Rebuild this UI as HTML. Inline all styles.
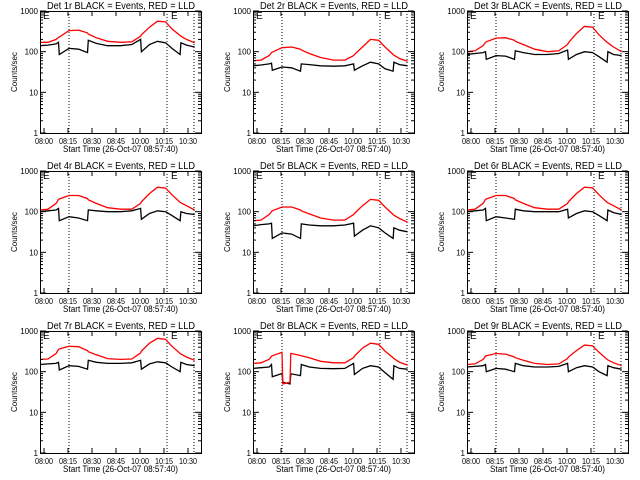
<!DOCTYPE html>
<html><head><meta charset="utf-8"><style>
body{margin:0;background:#fff;width:640px;height:480px;overflow:hidden}
svg{display:block;font-family:"Liberation Sans",sans-serif}
</style></head><body>
<svg id="root" width="640" height="480"></svg>
<script>
const TIMES=[0,5,10,11.5,12,18,24,29.5,30,35,42,50,57,62.5,63,68,73,78,82,87,87.5,91,96];
const TIMES_P8=[0,5,10,11.5,12,18,18.5,23,23.5,24,29.5,30,35,42,50,57,62.5,63,68,73,78,82,87,87.5,91,96];
const RED_1=[170,170,200,225,230,330,340,290,270,220,180,170,175,240,260,400,560,540,360,250,240,200,165];
const BLK_1=[140,145,155,170,85,120,115,95,190,160,140,140,150,200,100,150,180,165,120,85,165,145,130];
const RED_2=[60,62,80,95,97,125,130,115,110,90,72,62,62,80,85,130,200,190,130,85,82,68,58];
const BLK_2=[45,47,50,52,35,42,40,33,50,48,45,44,45,50,35,45,55,50,38,33,55,48,45];
const RED_3=[100,105,140,170,175,215,220,190,180,150,115,100,105,150,165,280,420,400,260,170,165,130,100];
const BLK_3=[85,90,95,100,65,80,78,65,105,95,85,85,90,110,65,85,100,95,75,55,100,85,80];
const RED_4=[110,115,160,200,205,250,250,210,195,160,125,115,115,160,175,280,400,380,260,170,165,140,110];
const BLK_4=[100,105,110,120,60,75,70,60,110,105,100,100,105,120,65,90,105,100,80,60,100,90,85];
const RED_5=[60,62,85,100,105,130,130,110,105,88,70,62,62,85,90,140,200,190,130,85,82,68,55];
const BLK_5=[45,48,50,52,22,30,28,22,50,47,45,45,47,52,25,35,45,40,30,22,40,35,32];
const RED_6=[110,115,160,200,205,250,250,210,195,160,125,115,115,160,175,280,400,385,260,170,165,140,110];
const BLK_6=[100,105,110,120,60,75,70,65,115,105,100,100,100,115,70,90,105,100,80,60,110,95,85];
const RED_7=[200,205,280,350,360,420,410,330,310,260,210,200,205,290,320,500,660,620,420,280,270,230,190];
const BLK_7=[150,155,160,170,110,140,135,115,190,170,160,160,165,190,115,155,175,165,130,100,170,150,140];
const RED_8=[160,165,200,240,245,300,50,55,280,280,250,245,220,180,165,165,220,240,380,500,470,320,220,210,170,145];
const BLK_8=[120,125,130,150,75,90,55,50,85,88,80,150,130,120,118,120,160,85,120,140,130,95,65,140,120,115];
const RED_9=[150,155,200,240,245,280,270,230,220,190,160,150,155,210,230,330,450,430,300,200,195,165,140];
const BLK_9=[130,135,140,150,100,120,115,100,160,140,130,130,135,160,100,125,140,130,100,80,140,125,115];
const X_TICKS=["08:00","08:15","08:30","08:45","10:00","10:15","10:30"];
const Y_TICKS=[1,10,100,1000];
const PANELS=[[RED_1,BLK_1,TIMES],[RED_2,BLK_2,TIMES],[RED_3,BLK_3,TIMES],[RED_4,BLK_4,TIMES],[RED_5,BLK_5,TIMES],[RED_6,BLK_6,TIMES],[RED_7,BLK_7,TIMES],[RED_8,BLK_8,TIMES_P8],[RED_9,BLK_9,TIMES]];
const NS="http://www.w3.org/2000/svg";
const root=document.getElementById('root');
function mk(tag,attrs,parent,txt){const e=document.createElementNS(NS,tag);for(const k in attrs)e.setAttribute(k,attrs[k]);if(txt!==undefined)e.textContent=txt;parent.appendChild(e);return e;}
const L=40,R=201,T=11,B=133;
function xs(t){return L+t/100*(R-L);}
function ys(v){return B-(B-T)/3*Math.log10(v);}
PANELS.forEach((p,i)=>{
  const ox=Math.round((i%3)*213.33), oy=Math.floor(i/3)*160;
  const g=mk('g',{transform:`translate(${ox},${oy})`},root);
  
  
  const ti=mk('text',{x:47,y:9,'font-size':10,textLength:148,lengthAdjust:'spacingAndGlyphs'},g,`Det ${i+1}r BLACK = Events, RED = LLD`);
  
  [69,167,194].forEach(x=>{const d=mk('line',{x1:x,x2:x,y1:T,y2:B,stroke:'#000','stroke-dasharray':'1,2','stroke-width':1},g);});
  [43,171].forEach(x=>{const e=mk('text',{x:x,y:T+8,'font-size':10},g,'E');});
  [[p[1],'#000','events-line'],[p[0],'#f00','lld-line']].forEach(([vals,c,n])=>{
    const pts=p[2].map((t,k)=>xs(t).toFixed(1)+','+ys(vals[k]).toFixed(1)).join(' ');
    const pl=mk('polyline',{points:pts,fill:'none',stroke:c,'stroke-width':1.3},g);
    
  });
  const box=mk('rect',{x:L+0.5,y:T+0.5,width:R-L,height:B-T,fill:'none',stroke:'#000','stroke-width':1},g);
  
  Y_TICKS.forEach((v,k)=>{
    const y=ys(v);
    mk('line',{x1:L,x2:L+6,y1:y,y2:y,stroke:'#000'},g);
    mk('line',{x1:R-6,x2:R,y1:y,y2:y,stroke:'#000'},g);
    const tl=mk('text',{x:L-2,y:y+3,'text-anchor':'end','font-size':8},g,String(v));
    
    if(k<3)for(let m=2;m<10;m++){const ym=ys(v*m);mk('line',{x1:L,x2:L+3,y1:ym,y2:ym,stroke:'#000'},g);mk('line',{x1:R-3,x2:R,y1:ym,y2:ym,stroke:'#000'},g);}
  });
  X_TICKS.forEach((s,k)=>{
    const x=44+k*24;
    mk('line',{x1:x,x2:x,y1:B,y2:B-5,stroke:'#000'},g);
    mk('line',{x1:x,x2:x,y1:T,y2:T+5,stroke:'#000'},g);
    const xl=mk('text',{x:x-9,y:B+11,'font-size':8,textLength:18,lengthAdjust:'spacingAndGlyphs'},g,s);
    
  });
  const xt=mk('text',{x:63,y:B+19,'font-size':9,textLength:115,lengthAdjust:'spacingAndGlyphs'},g,'Start Time (26-Oct-07 08:57:40)');
  
  const yt=mk('text',{x:0,y:0,'text-anchor':'middle','font-size':8,transform:`translate(17,${(T+B)/2}) rotate(-90)`},g,'Counts/sec');
  
});
</script>
</body></html>
